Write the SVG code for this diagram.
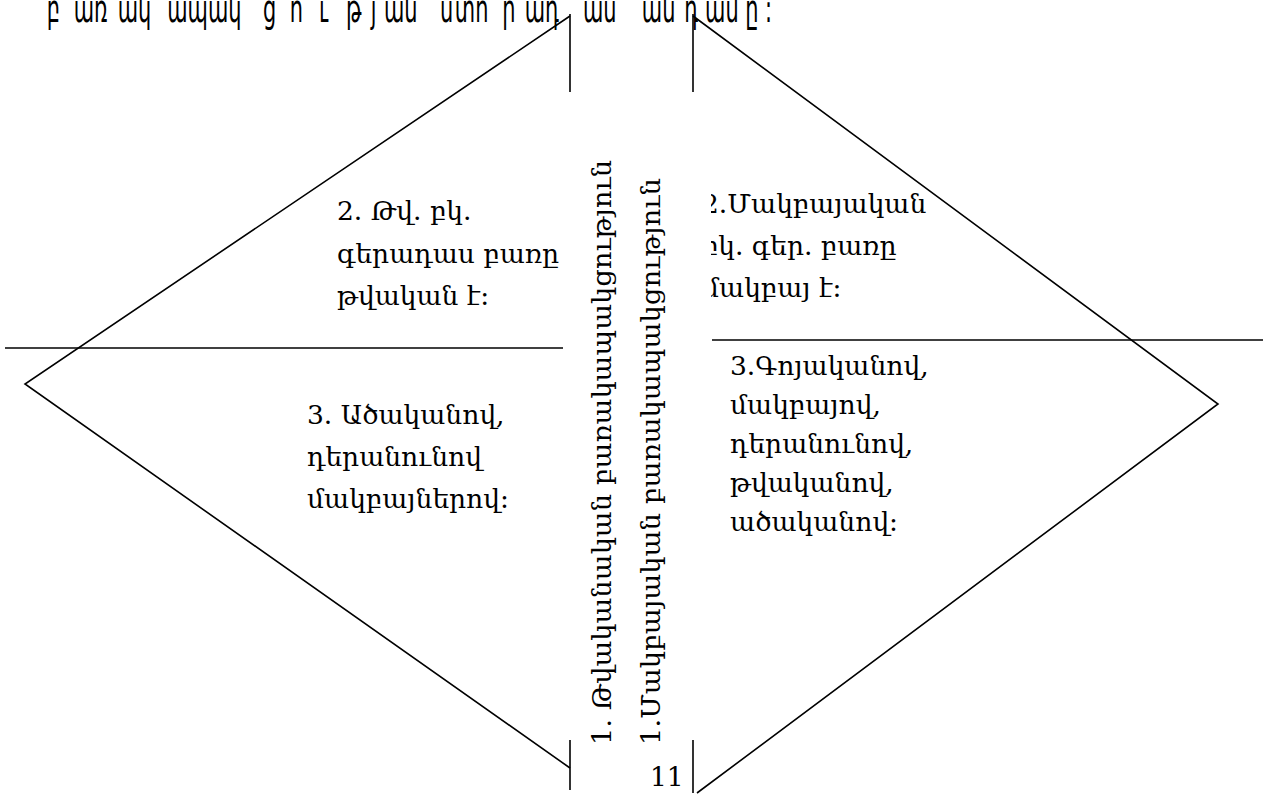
<svg xmlns="http://www.w3.org/2000/svg" width="1263" height="798" viewBox="0 0 1263 798">
<style>
.ln{stroke:#000;stroke-width:1.6;fill:none}
.t{font-family:"DejaVu Serif","Liberation Serif",serif;font-size:26.5px;fill:#000}
.top{font-family:"DejaVu Sans","Liberation Sans",sans-serif;font-size:38px;fill:#000}
</style>
<defs>
<clipPath id="clipR"><rect x="711" y="150" width="300" height="180"/></clipPath>
</defs>
<rect width="1263" height="798" fill="#fff"/>
<g id="title">
<g transform="translate(0,22) scale(0.55,1)">
<text class="top"><tspan x="85">բ</tspan><tspan x="134">առ</tspan><tspan x="214">ակ</tspan><tspan x="304">ապակ</tspan><tspan x="478">ց</tspan><tspan x="527">ո</tspan><tspan x="580">ւ</tspan><tspan x="629">թ</tspan><tspan x="674">յ</tspan><tspan x="698">ան</tspan><tspan x="800">ս</tspan><tspan x="827">տո</tspan><tspan x="913">ր</tspan><tspan x="954">ադ</tspan><tspan x="1060">աս</tspan><tspan x="1167">ան</tspan><tspan x="1244">դ</tspan><tspan x="1282">ամ</tspan><tspan x="1355">ը</tspan><tspan x="1391">:</tspan></text>
</g>
</g>
<g id="connectors">
<polyline class="ln" points="570,16 25,384 570,768"/>
<line class="ln" x1="570" y1="14" x2="570" y2="92"/>
<line class="ln" x1="570" y1="740" x2="570" y2="790"/>
<polyline class="ln" points="693,16 1218,404 697,793"/>
<line class="ln" x1="693" y1="14" x2="693" y2="92"/>
<line class="ln" x1="693" y1="740" x2="693" y2="793"/>
<line class="ln" x1="5" y1="348" x2="563" y2="348"/>
<line class="ln" x1="712" y1="340" x2="1263" y2="340"/>
</g>
<g id="node-left-top">
<text class="t" x="337" y="220">2. Թվ. բկ.</text>
<text class="t" x="337" y="263">գերադաս բառը</text>
<text class="t" x="337" y="305">թվական է:</text>
</g>
<g id="node-right-top" clip-path="url(#clipR)">
<text class="t" x="702" y="213">2.Մակբայական</text>
<text class="t" x="702" y="255">բկ. գեր. բառը</text>
<text class="t" x="702" y="297">մակբայ է:</text>
</g>
<g id="node-left-bottom">
<text class="t" x="307" y="424">3. Ածականով,</text>
<text class="t" x="307" y="466">դերանունով</text>
<text class="t" x="307" y="508">մակբայներով:</text>
</g>
<g id="node-right-bottom">
<text class="t" x="730" y="375">3.Գոյականով,</text>
<text class="t" x="730" y="414">մակբայով,</text>
<text class="t" x="730" y="453">դերանունով,</text>
<text class="t" x="730" y="492">թվականով,</text>
<text class="t" x="730" y="531">ածականով:</text>
</g>
<g id="node-center-1">
<text class="t" transform="translate(611,745) rotate(-90)" textLength="585" lengthAdjust="spacingAndGlyphs">1. Թվականական բառակապակցություն</text>
</g>
<g id="node-center-2">
<text class="t" transform="translate(660,745) rotate(-90)" textLength="567" lengthAdjust="spacingAndGlyphs">1.Մակբայական բառակապակցություն</text>
</g>
<g id="page-number">
<text class="t" x="650" y="786">11</text>
</g>
</svg>
